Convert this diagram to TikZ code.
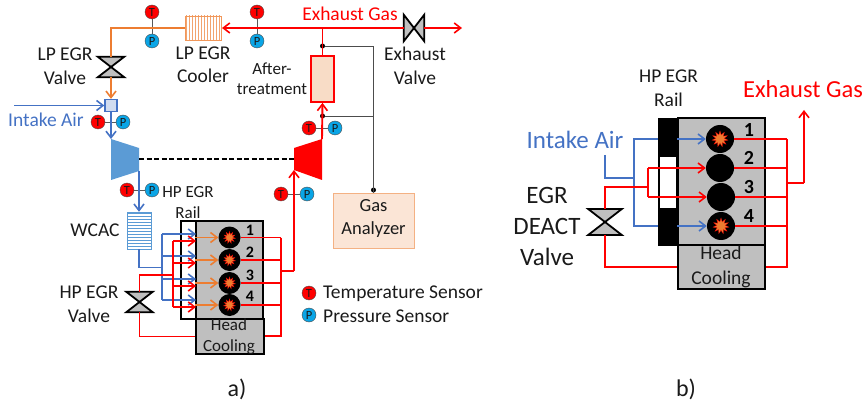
\documentclass[tikz,border=0pt]{standalone}
\usepackage{fontspec}
\setmainfont{Carlito}
\usetikzlibrary{arrows.meta,patterns,shapes.geometric}
\definecolor{PipeRed}{HTML}{FF0000}
\definecolor{PipeBlue}{HTML}{4472C4}
\definecolor{PipeOrange}{HTML}{ED7D31}
\definecolor{CompBlue}{HTML}{5B9BD5}
\definecolor{EngineGray}{HTML}{BFBFBF}
\definecolor{BoxPeach}{HTML}{F8DCC6}
\definecolor{AnalyzerPeach}{HTML}{FBE5D6}
\definecolor{SensorBlue}{HTML}{0AA5E6}
\definecolor{TextDark}{HTML}{1A1A1A}
\tikzset{
  txt/.style={font=\fontsize{#1}{1.2\dimexpr#1pt\relax}\selectfont, text=TextDark, align=center, inner sep=0pt},
  redpipe/.style={draw=PipeRed, line width=1.9pt},
  bluepipe/.style={draw=PipeBlue, line width=1.9pt},
  orangepipe/.style={draw=PipeOrange, line width=1.9pt},
  tip/.style={-{Straight Barb[length=6.5pt,width=10pt,line width=1.6pt]}},
  sensorT/.style={circle, draw=black!70, fill=PipeRed, inner sep=0pt, minimum size=14pt, font=\fontsize{12.5}{12.5}\selectfont, text=TextDark},
  sensorP/.style={circle, draw=black!70, fill=SensorBlue, inner sep=0pt, minimum size=14pt, font=\fontsize{12.5}{12.5}\selectfont, text=TextDark},
  sensorline/.style={draw=black!65, line width=0.9pt},
  signalline/.style={draw=black!70, line width=0.9pt},
  dot/.style={circle, fill=black, inner sep=0pt, minimum size=5pt},
  valveline/.style={draw=black, fill=EngineGray, line width=1.8pt, line join=miter},
  valveup/.style={inner sep=0pt, minimum width=#1, minimum height=0.77*#1,
    append after command={\pgfextra{\draw[valveline] (\tikzlastnode.north west) -- (\tikzlastnode.north east) -- (\tikzlastnode.south west) -- (\tikzlastnode.south east) -- cycle;}}},
  valveside/.style={inner sep=0pt, minimum width=20pt, minimum height=26pt,
    append after command={\pgfextra{\draw[valveline] (\tikzlastnode.north west) -- (\tikzlastnode.south west) -- (\tikzlastnode.north east) -- (\tikzlastnode.south east) -- cycle;}}},
  engine/.style={draw=black, fill=EngineGray, line width=1.7pt, inner sep=0pt},
  cyl/.style={circle, fill=black, inner sep=0pt, minimum size=#1},
  burst/.style={star, star points=11, star point ratio=1.9, fill=PipeOrange, draw=PipeRed, line width=0.3pt, inner sep=0pt, minimum size=#1},
  number/.style={font=\fontsize{#1}{#1}\selectfont\bfseries, text=black, inner sep=0pt},
}
\begin{document}
\begin{tikzpicture}[x=1pt, y=-1pt]
  \useasboundingbox (0,0) rectangle (866,403);

  % a) air path
  \node[sensorT] (ctop) at (152,12) {T};
  \node[sensorP] (ptop) at (152,41) {P};
  \node[sensorT] (texh) at (257,12) {T};
  \node[sensorP] (pexh) at (257,41) {P};
  \node[draw=PipeOrange!80, pattern=vertical lines, pattern color=PipeOrange!70, minimum width=36pt, minimum height=24pt, inner sep=0pt] (lpcooler) at (203,28) {};
  \node[valveup=26pt] (lpvalve) at (111,67) {};
  \node[draw=PipeBlue, fill=PipeBlue!25, line width=1.3pt, minimum size=12pt, inner sep=0pt] (mixer) at (111,105.5) {};
  \node[sensorT] (tint) at (98,122) {T};
  \node[sensorP] (pint) at (123,122) {P};
  \fill[CompBlue] (111,139) coordinate (compin) -- (139,148) -- (139,171) coordinate (compout) -- (111,180) -- cycle;
  \fill[PipeRed] (294,148) -- (322,139) coordinate (turbout) -- (322,180) -- (294,170) coordinate (turbin) -- cycle;
  \coordinate (shaftl) at (139,159.5);
  \coordinate (shaftr) at (294,159.5);
  \node[sensorT] (tcomp) at (127,190) {T};
  \node[sensorP] (pcomp) at (152,190) {P};
  \node[draw=CompBlue, pattern=horizontal lines, pattern color=CompBlue, minimum width=24pt, minimum height=37pt, inner sep=0pt] (wcac) at (139,230.5) {};
  \node[valveup=26pt] (hpvalve) at (139.5,302) {};

  % a) exhaust side
  \node[draw=PipeRed, fill=BoxPeach, line width=1.8pt, minimum width=23pt, minimum height=46pt, inner sep=0pt] (after) at (322.5,79) {};
  \node[dot] (dottop) at (322.5,46) {};
  \node[dot] (dotbot) at (322.5,116) {};
  \node[sensorT] (tturb) at (309,128) {T};
  \node[sensorP] (pturb) at (335,128) {P};
  \node[sensorT] (tin) at (281,194) {T};
  \node[sensorP] (pin) at (307,194) {P};
  \node[valveside] (exvalve) at (414,28) {};
  \coordinate (exout) at (462,28);
  \coordinate (exjoin) at (322.5,28);
  \coordinate (exleft) at (222,28);
  \node[draw=PipeOrange!60, fill=AnalyzerPeach, line width=0.8pt, minimum width=81pt, minimum height=55pt, inner sep=0pt] (analyzer) at (373.5,220.5) {};
  \node[dot] (dotgas) at (373.5,190) {};

  % a) engine
  \node[draw=black, fill=white, line width=1.7pt, minimum width=15pt, minimum height=98pt, inner sep=0pt] (rail) at (188.5,270) {};
  \node[engine, minimum width=67pt, minimum height=98pt] (block) at (229.5,270) {};
  \node[engine, minimum width=68pt, minimum height=35pt] (head) at (230,336.5) {};
  \node[cyl=22pt] (cyla) at (229.5,237.5) {};
  \node[cyl=22pt] (cylb) at (229.5,260) {};
  \node[cyl=22pt] (cylc) at (229.5,283) {};
  \node[cyl=22pt] (cyld) at (229.5,305) {};
  \node[burst=12pt] (bursta) at (cyla) {};
  \node[burst=12pt] (burstb) at (cylb) {};
  \node[burst=12pt] (burstc) at (cylc) {};
  \node[burst=12pt] (burstd) at (cyld) {};
  \node[number=16] (numa) at (250,230) {1};
  \node[number=16] (numb) at (250,252.5) {2};
  \node[number=16] (numc) at (250,275) {3};
  \node[number=16] (numd) at (250,296) {4};

  \coordinate (wcacbend) at (139,267.5);
  \coordinate (blueup) at (162,234);
  \coordinate (bluedown) at (162,300);
  \coordinate (bluemid) at (162,267.5);
  \coordinate (redup) at (173,241);
  \coordinate (reddown) at (173,307);
  \coordinate (redmid) at (173,275);
  \coordinate (exbus) at (281,237.5);
  \coordinate (exbusout) at (281,271);
  \coordinate (exbusend) at (281,336);
  \coordinate (turbbend) at (294,271);

  % a) pipes
  \draw[sensorline] (ctop) -- (ptop);
  \draw[sensorline] (texh) -- (pexh);
  \draw[sensorline] (tint) -- (pint);
  \draw[sensorline] (tcomp) -- (pcomp);
  \draw[sensorline] (tturb) -- (pturb);
  \draw[sensorline] (tin) -- (pin);
  \draw[orangepipe] (lpcooler.west) -| (lpvalve.north);
  \draw[orangepipe, tip] (lpvalve.south) -- (mixer.north);
  \draw[bluepipe, tip] (14,105.5) -- (mixer.west);
  \draw[bluepipe, tip] (mixer.south) -- (compin);
  \draw[bluepipe, tip] (compout) -- (wcac.north);
  \draw[redpipe, tip] (exvalve.east) -- (exout);
  \draw[redpipe] (exvalve.west) -- (exjoin);
  \draw[redpipe, tip] (exjoin) -- (exleft);
  \draw[redpipe] (exjoin) -- (after.north);
  \draw[redpipe, tip] (turbout) -- (after.south);
  \draw[line width=2pt, dash pattern=on 5pt off 2.5pt, black] (shaftl) -- (shaftr);
  \draw[signalline] (dottop) -| (analyzer.north);
  \draw[signalline] (dotbot) -- (dotbot -| analyzer.north);
  \draw[bluepipe] (wcac.south) |- (bluemid);
  \draw[bluepipe] (blueup) -- (bluedown);
  \draw[bluepipe, tip] (blueup) -- (196,234);
  \draw[bluepipe, tip] (162,256) -- (196,256);
  \draw[bluepipe, tip] (162,279) -- (196,279);
  \draw[bluepipe, tip] (bluedown) -- (196,300);
  \draw[redpipe] (hpvalve.north) |- (redmid);
  \draw[redpipe] (redup) -- (reddown);
  \draw[redpipe, tip] (redup) -- (196,241);
  \draw[redpipe, tip] (173,263) -- (196,263);
  \draw[redpipe, tip] (173,286) -- (196,286);
  \draw[redpipe, tip] (reddown) -- (196,307);
  \draw[redpipe] (hpvalve.south) |- (head.west);
  \draw[orangepipe, tip] (block.west |- cyla) -- (cyla.west);
  \draw[orangepipe, tip] (block.west |- cylb) -- (cylb.west);
  \draw[orangepipe, tip] (block.west |- cylc) -- (cylc.west);
  \draw[orangepipe, tip] (block.west |- cyld) -- (cyld.west);
  \draw[redpipe] (cyla.east) -- (exbus);
  \draw[redpipe] (cylb.east) -- (exbus |- cylb);
  \draw[redpipe] (cylc.east) -- (exbus |- cylc);
  \draw[redpipe] (cyld.east) -- (exbus |- cyld);
  \draw[redpipe] (exbus) -- (exbusend) -- (exbusend -| head.east);
  \draw[redpipe] (exbusout) -- (turbbend);
  \draw[redpipe, tip] (turbbend) -- (turbin);

  % a) labels
  \node[txt=19.5, text=PipeRed] (exhtext) at (350,14) {Exhaust Gas};
  \node[txt=19.5] (exvalvetext) at (415,66) {Exhaust\\[1pt]Valve};
  \node[txt=19.5] (lpvalvetext) at (65,66) {LP EGR\\[1pt]Valve};
  \node[txt=19.5] (lpcoolertext) at (203,64.5) {LP EGR\\Cooler};
  \node[txt=17] (aftertext) at (272,79) {After-\\treatment};
  \node[txt=19.5, text=PipeBlue] (intaketext) at (46,120) {Intake Air};
  \node[txt=17] (railtext) at (188,202.5) {HP EGR\\Rail};
  \node[txt=19.5] (wcactext) at (95,230) {WCAC};
  \node[txt=19.5] (hpvalvetext) at (89,304.5) {HP EGR\\[1pt]Valve};
  \node[txt=18.5] (gastext) at (373.5,218.5) {Gas\\[1pt]Analyzer};
  \node[txt=17] (headtext) at (229,336.5) {Head\\Cooling};
  \node[sensorT] (legT) at (309,293) {T};
  \node[sensorP] (legP) at (309,315) {P};
  \node[txt=19.5, anchor=west] (legTtext) at (323,294) {Temperature Sensor};
  \node[txt=19.5, anchor=west] (legPtext) at (323,316) {Pressure Sensor};
  \node[txt=24] (parta) at (237,389) {a)};
  \node[txt=24] (partb) at (686,389) {b)};

  % b) engine
  \node[draw=black, fill=black, minimum width=20pt, minimum height=127pt, inner sep=0pt] (railb) at (668,181.5) {};
  \node[fill=white, minimum width=16pt, minimum height=51pt, inner sep=0pt] (windowb) at (668,182.5) {};
  \node[engine, minimum width=87pt, minimum height=127pt] (blockb) at (721.5,181.5) {};
  \node[engine, minimum width=87pt, minimum height=44pt] (headb) at (721.5,267) {};
  \node[cyl=28pt] (cylba) at (720,139) {};
  \node[cyl=28pt] (cylbb) at (720,168) {};
  \node[cyl=28pt] (cylbc) at (721,197) {};
  \node[cyl=28pt] (cylbd) at (721,226) {};
  \node[burst=16pt] (burstba) at (cylba) {};
  \node[burst=16pt] (burstbd) at (cylbd) {};
  \node[number=20] (numba) at (749,130) {1};
  \node[number=20] (numbb) at (749,158) {2};
  \node[number=20] (numbc) at (749,187) {3};
  \node[number=20] (numbd) at (749,216) {4};
  \node[valveup=33pt] (valveb) at (605,222) {};

  \coordinate (intakeb) at (605,155);
  \coordinate (bluebendb) at (605,178);
  \coordinate (bluebusb) at (634,178);
  \coordinate (redbendb) at (648,187);
  \coordinate (exbusb) at (787,139);
  \coordinate (exbusendb) at (787,267);
  \coordinate (exoutb) at (787,183);
  \coordinate (exturnb) at (804,183);
  \coordinate (extipb) at (804,110);

  % b) pipes
  \draw[bluepipe] (intakeb) -- (bluebendb) -- (bluebusb);
  \draw[bluepipe] (railb.west |- cylba) -| (bluebusb) |- (railb.west |- cylbd);
  \draw[bluepipe, tip] (blockb.west |- cylba) -- (cylba.west);
  \draw[bluepipe, tip] (blockb.west |- cylbd) -- (cylbd.west);
  \draw[redpipe] (valveb.north) |- (redbendb);
  \draw[redpipe] (redbendb |- cylbb) -- (redbendb |- cylbc);
  \draw[redpipe, tip] (redbendb |- cylbb) -- (cylbb.west);
  \draw[redpipe, tip] (redbendb |- cylbc) -- (cylbc.west);
  \draw[redpipe] (valveb.south) |- (headb.west);
  \draw[redpipe] (cylba.east) -- (exbusb);
  \draw[redpipe] (cylbb.east) -- (exbusb |- cylbb);
  \draw[redpipe] (cylbc.east) -- (exbusb |- cylbc);
  \draw[redpipe] (cylbd.east) -- (exbusb |- cylbd);
  \draw[redpipe] (exbusb) -- (exbusendb) -- (headb.east);
  \draw[redpipe] (exoutb) -- (exturnb);
  \draw[redpipe, tip] (exturnb) -- (extipb);

  % b) labels
  \node[txt=19.5] (railbtext) at (668.5,88.5) {HP EGR\\[1pt]Rail};
  \node[txt=24.5, text=PipeRed] (exhbtext) at (803,89) {Exhaust Gas};
  \node[txt=25, text=PipeBlue] (intakebtext) at (575,140) {Intake Air};
  \node[txt=25] (valvebtext) at (547,226.5) {EGR\\[1pt]DEACT\\[1pt]Valve};
  \node[txt=19.5] (headbtext) at (721,267) {Head\\[1pt]Cooling};
\end{tikzpicture}
\end{document}
